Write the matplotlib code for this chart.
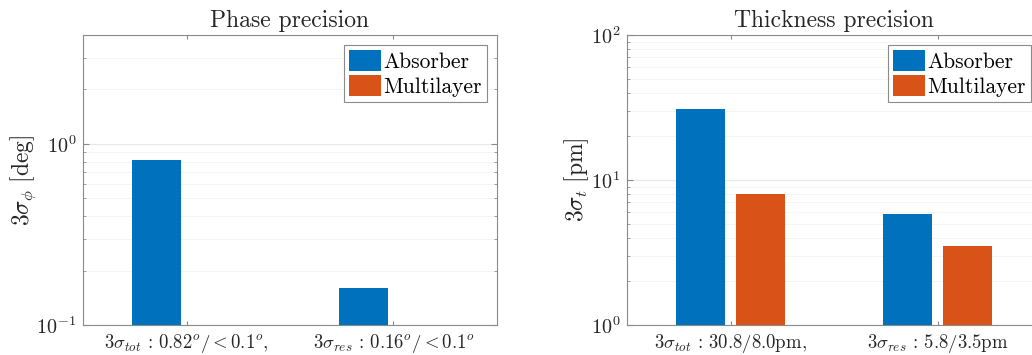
import matplotlib
matplotlib.use("Agg")
import matplotlib.pyplot as plt
import numpy as np
from matplotlib.ticker import LogLocator, NullFormatter

plt.rcParams['font.family'] = 'serif'
plt.rcParams['font.serif'] = ['cmr10', 'DejaVu Serif']
plt.rcParams['mathtext.fontset'] = 'cm'
plt.rcParams['axes.formatter.use_mathtext'] = True

series = ['Absorber', 'Multilayer']
colors = ['#0072BD', '#D95319']

phase_labels = [r'$3\sigma_{tot}\,:\,0.82^o/<0.1^o,$', r'$3\sigma_{res}\,:\,0.16^o/<0.1^o$']
phase_absorber = [0.82, 0.16]
phase_multilayer = [0.05, 0.05]

thick_labels = [r'$3\sigma_{tot}\,:\,30.8/8.0\mathrm{pm},$', r'$3\sigma_{res}\,:\,5.8/3.5\mathrm{pm}$']
thick_absorber = [30.8, 5.8]
thick_multilayer = [8.0, 3.5]

W, H = 1032, 355
fig = plt.figure(figsize=(W / 100, H / 100), dpi=100)

ax1 = fig.add_axes([83 / W, 30 / H, 414 / W, 290 / H])
ax2 = fig.add_axes([627 / W, 30 / H, 414 / W, 290 / H])

def style(ax, data, labels, ylim, ylabel, title, label_x):
    x = np.arange(1, len(labels) + 1)
    off = 0.145
    w = 0.233
    for i, (vals, c, name) in enumerate(zip(data, colors, series)):
        ax.bar(x + (i - 0.5) * 2 * off, vals, width=w, color=c, label=name,
               edgecolor='none', zorder=3)
    ax.set_yscale('log')
    ax.set_ylim(*ylim)
    ax.set_xlim(0.5, 2.5)
    ax.set_xticks(x)
    ax.set_xticklabels(labels, fontsize=13.5, color='#262626')
    ax.yaxis.set_major_locator(LogLocator(base=10, numticks=10))
    ax.yaxis.set_minor_locator(LogLocator(base=10, subs=np.arange(2, 10), numticks=10))
    ax.yaxis.set_minor_formatter(NullFormatter())
    ax.tick_params(axis='both', which='both', direction='in', top=True, right=True,
                   color='#8a8a8a', labelsize=14.5, labelcolor='#262626', length=3, pad=5)
    ax.tick_params(axis='x', labelsize=13.5)
    ax.tick_params(axis='y', which='major', length=4)
    ax.tick_params(axis='y', which='minor', length=2)
    ax.grid(True, axis='y', which='major', color='#e8e8e8', linewidth=0.8, zorder=0)
    ax.grid(True, axis='y', which='minor', color='#f2f2f2', linewidth=0.6, zorder=0)
    for s in ax.spines.values():
        s.set_color('#8a8a8a')
        s.set_linewidth(0.8)
    ax.set_ylabel(ylabel, fontsize=17, color='#262626')
    ax.yaxis.set_label_coords(label_x, 0.5)
    ax.set_title(title, fontsize=17, color='#262626', pad=6)
    leg = ax.legend(loc='upper right', fontsize=15.5, frameon=True, fancybox=False,
                    framealpha=1, edgecolor='#8a8a8a', handlelength=1.5,
                    handleheight=1.1, handletextpad=0.1, borderpad=0.25,
                    labelspacing=0.15, borderaxespad=0.45)
    leg.get_frame().set_linewidth(0.8)

style(ax1, [phase_absorber, phase_multilayer], phase_labels, (0.1, 4.0),
      r'$3\sigma_{\phi}\ [\mathrm{deg}]$', 'Phase precision', -0.108)
style(ax2, [thick_absorber, thick_multilayer], thick_labels, (1, 100),
      r'$3\sigma_{t}\ [\mathrm{pm}]$', 'Thickness precision', -0.088)

fig.savefig('out.png', dpi=100)
